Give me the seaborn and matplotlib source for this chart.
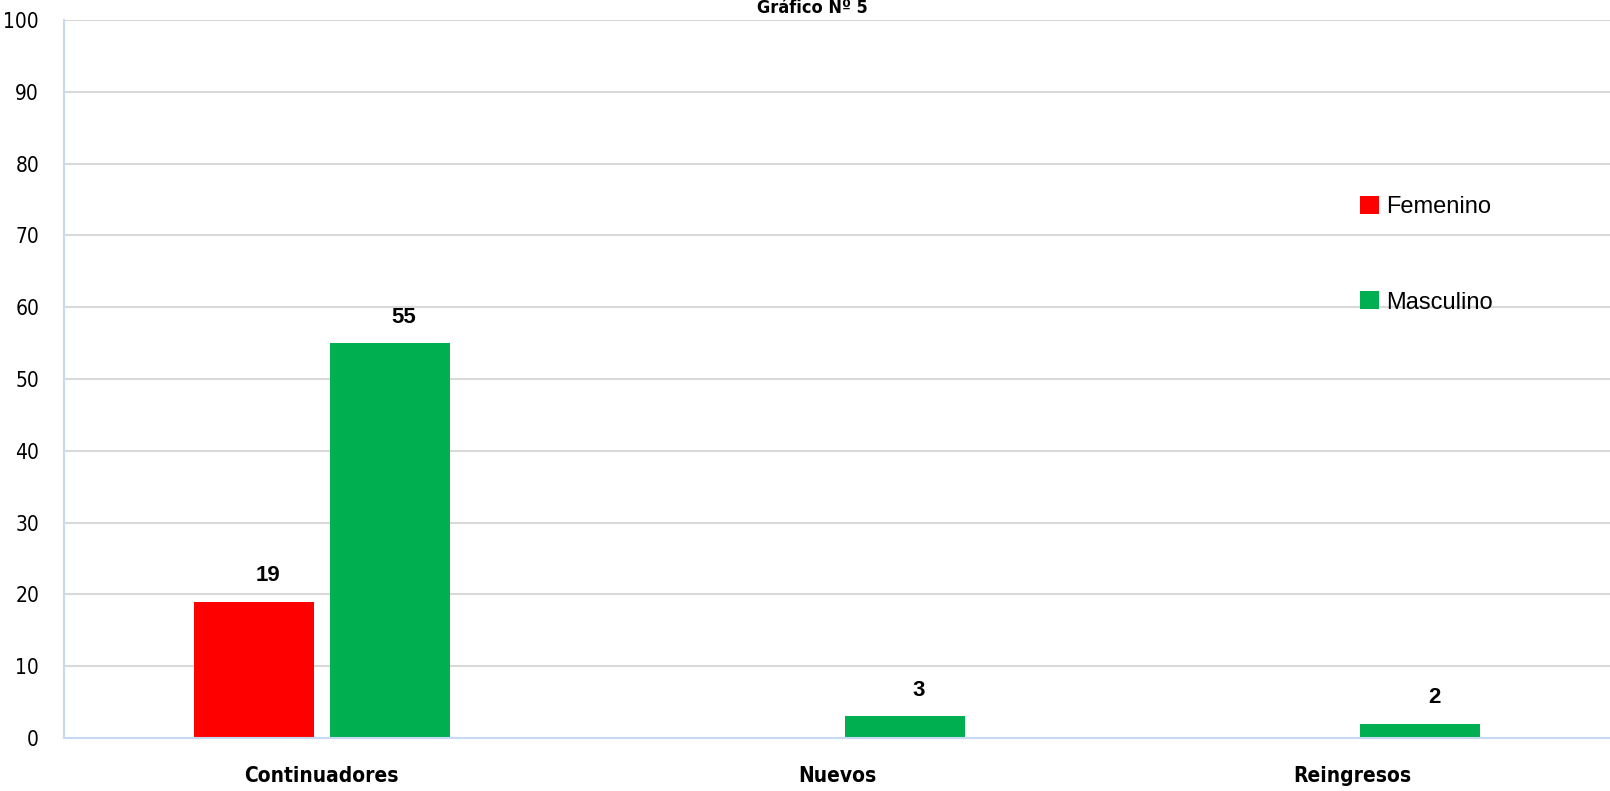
import matplotlib
matplotlib.use("Agg")
import matplotlib.pyplot as plt
import seaborn as sns
import pandas as pd

categorias = ["Continuadores", "Nuevos", "Reingresos"]
femenino = [19, 0, 0]
masculino = [55, 3, 2]
series = ["Femenino", "Masculino"]
colores = {"Femenino": "#ff0000", "Masculino": "#00b050"}

df = pd.DataFrame({
    "categoria": categorias * 2,
    "sexo": ["Femenino"] * 3 + ["Masculino"] * 3,
    "valor": femenino + masculino,
})

sns.set_theme(style="white")
plt.rcParams["font.family"] = ["Liberation Sans", "DejaVu Sans"]
plt.rcParams["text.color"] = "black"
plt.rcParams["xtick.color"] = "black"
plt.rcParams["ytick.color"] = "black"

fig = plt.figure(figsize=(16.1, 7.91), dpi=100)
ax = fig.add_axes([64 / 1610, 1 - 738 / 791, 1 - 64 / 1610, 718 / 791])

sns.barplot(data=df, x="categoria", y="valor", hue="sexo", hue_order=series,
            palette=colores, width=0.528, gap=0.12, saturation=1,
            edgecolor="none", ax=ax)

ax.set_ylim(0, 100)
ax.set_xlim(-0.5, 2.5)
ax.set_yticks(range(0, 101, 10))
ax.yaxis.grid(True, color="#d9d9d9", linewidth=1.5)
ax.set_axisbelow(True)
ax.set_xlabel("")
ax.set_ylabel("")

cond = dict(family="DejaVu Sans", stretch="condensed")
ax.set_yticklabels([str(v) for v in range(0, 101, 10)], fontsize=15, **cond)
ax.set_xticklabels(categorias, fontsize=15, fontweight="bold", **cond)
ax.tick_params(axis="x", length=0, pad=20, labelcolor="black")
ax.tick_params(axis="y", length=6, color="#c6d9f0", pad=12, labelcolor="black")
ax.set_xticks([0.5, 1.5], minor=True)
ax.tick_params(axis="x", which="minor", length=6, color="#c6d9f0")

for s in ["top", "right"]:
    ax.spines[s].set_visible(False)
for s in ["left", "bottom"]:
    ax.spines[s].set_color("#c6d9f0")
    ax.spines[s].set_linewidth(1.5)

# etiquetas de datos (algo desplazadas a la derecha, como en el original)
for cont in ax.containers:
    for b in cont:
        h = b.get_height()
        if h > 0:
            ax.annotate(f"{int(h)}", (b.get_x() + b.get_width() / 2, h),
                        xytext=(10, 11), textcoords="offset points",
                        ha="center", va="bottom", fontsize=16,
                        fontweight="bold", color="black")

handles, labs = ax.get_legend_handles_labels()
ax.legend(handles, labs, loc="upper left", bbox_to_anchor=(1360 / 1610, 1 - 196 / 791),
          bbox_transform=fig.transFigure, frameon=False, fontsize=17,
          handlelength=0.8, handleheight=0.8, handletextpad=0.3,
          labelspacing=3.1, borderpad=0, borderaxespad=0)

fig.text(812 / 1610, 1 - 8 / 791, "Gráfico Nº 5", ha="center", va="center",
         fontsize=13, fontweight="bold", color="black", **cond)

fig.savefig("out.png", dpi=100)
